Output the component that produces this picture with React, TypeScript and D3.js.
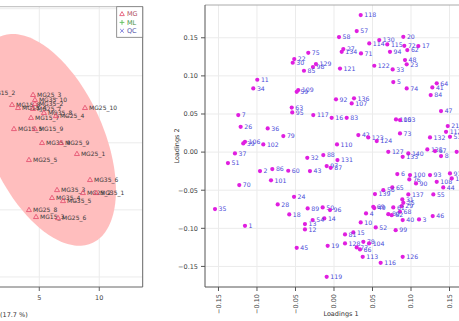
import * as d3 from "d3";

const W = 459;
const H = 321;

// score plot, group MG (PC1 x PC2)
const scoreLabels = [
  "MG15_2", "MG15_8", "MG15_4", "MG25_3", "MG35_10", "MG35_2", "MG25_7", "MG35_8",
  "MG15_7", "MG25_4", "MG25_10", "MG15_5", "MG15_9", "MG35_9", "MG25_9", "MG25_1",
  "MG25_5", "MG35_6", "MG35_3", "MG25_2", "MG35_1", "MG35_4", "MG35_5", "MG25_8",
  "MG15_3", "MG25_6",
];
const scoreX = [
  0.64, 2.73, 3.23, 4.48, 4.64, 4.64, 4.48, 5.39,
  4.31, 6.39, 8.81, 2.89, 4.64, 5.23, 6.81, 8.14,
  4.14, 9.23, 6.48, 8.64, 9.73, 6.06, 6.98, 4.14,
  4.73, 6.56,
];
const scoreY = [
  3.73, 2.84, 2.61, 3.58, 3.21, 2.91, 2.54, 2.24,
  1.87, 2.01, 2.61, 1.04, 1.04, 0.0, 0.0, -0.82,
  -1.27, -2.76, -3.51, -3.73, -3.73, -4.1, -4.33, -5.0,
  -5.52, -5.6,
];
// confidence ellipse of MG: centre and two conjugate half-axes (data units)
const ellipseCenter = [5.56, 0.22];
const ellipseAxisA = [5.83, -3.76];
const ellipseAxisB = [0, -6.94];
const scoreXTicks = [-10, -5, 0, 5, 10];
const scoreYTicks = [-10, -5, 0, 5, 10];
const legendGroups = ["MG", "ML", "QC"];

// loadings
const loadLabels = [
  "118", "57", "58", "130", "114", "115", "20", "72", "17", "94", "62", "27", "134", "71",
  "48", "23", "122", "33", "121", "5", "74", "64", "41", "84", "136", "107", "92", "75",
  "22", "30", "129", "98", "85", "11", "34", "109", "59", "63", "95", "117", "16", "7",
  "26", "36", "79", "106", "39", "102", "37", "51", "32", "88", "2", "86", "60", "43",
  "131", "97", "87", "70", "101", "24", "28", "89", "50", "96", "18", "1", "14", "54",
  "13", "12", "45", "19", "119", "35", "83", "105", "103", "47", "21", "112", "73", "42",
  "123", "124", "132", "53", "110", "127", "140", "133", "135", "67", "8", "6", "100", "76",
  "90", "93", "108", "91", "111", "65", "56", "139", "137", "55", "44", "31", "25", "29",
  "69", "49", "61", "68", "80", "82", "4", "46", "3", "40", "99", "52", "10", "15",
  "81", "128", "78", "104", "77", "66", "113", "116", "126", "9",
];
const loadX = [
  0.0347, 0.0295, 0.0065, 0.0588, 0.0458, 0.0692, 0.09, 0.0913, 0.1095, 0.0727, 0.0952, 0.0121, 0.01, 0.0351,
  0.0922, 0.0944, 0.0523, 0.0762, 0.0078, 0.077, 0.0944, 0.1334, 0.1277, 0.1256, 0.026, 0.023, 0.0026, -0.0334,
  -0.0516, -0.0536, -0.0234, -0.0273, -0.039, -0.0996, -0.1048, -0.0464, -0.0484, -0.0549, -0.0542, -0.0269, -0.003, -0.1243,
  -0.1212, -0.0861, -0.0658, -0.1156, -0.1178, -0.0918, -0.1286, -0.1377, -0.0347, -0.0139, -0.0961, -0.0801, -0.0594, -0.0312,
  0.0045, -0.0095, -0.0043, -0.123, -0.0818, -0.0519, -0.0731, -0.0342, -0.0147, -0.0052, -0.0581, -0.1156, -0.0126, -0.0277,
  -0.0377, -0.0377, -0.0484, -0.0082, -0.0095, -0.1545, 0.0165, 0.0805, 0.0857, 0.139, 0.1477, 0.1455, 0.0857, 0.0316,
  0.0445, 0.0555, 0.1247, 0.1506, 0.0039, 0.0705, 0.0965, 0.0892, 0.1212, 0.1312, 0.139, 0.0822, 0.0987, 0.0978,
  0.1065, 0.1247, 0.1334, 0.1506, 0.1529, 0.0757, 0.064, 0.0532, 0.0965, 0.129, 0.1419, 0.0887, 0.09, 0.0879,
  0.051, 0.0523, 0.077, 0.0857, 0.0705, 0.0749, 0.0416, 0.1282, 0.1104, 0.0892, 0.0801, 0.0542, 0.0347, 0.0251,
  0.0143, 0.0143, 0.0381, 0.0455, 0.0295, 0.0338, 0.0373, 0.0606, 0.0892, 0.1593,
];
const loadY = [
  0.1798, 0.1588, 0.1509, 0.147, 0.1426, 0.1413, 0.1513, 0.1395, 0.1391, 0.1316, 0.1339, 0.1352, 0.1316, 0.1295,
  0.1207, 0.1151, 0.1133, 0.1085, 0.1096, 0.0919, 0.0836, 0.0902, 0.0849, 0.0748, 0.0705, 0.0639, 0.0692, 0.1303,
  0.122, 0.1172, 0.1155, 0.1115, 0.1067, 0.0949, 0.0836, 0.0814, 0.0791, 0.0584, 0.0521, 0.0486, 0.045, 0.0486,
  0.0332, 0.0311, 0.021, 0.0135, 0.0114, 0.0101, -0.0017, -0.0144, -0.0075, -0.0039, -0.0249, -0.0223, -0.0245, -0.0249,
  -0.0105, -0.0184, -0.0206, -0.0433, -0.0371, -0.0587, -0.0686, -0.0739, -0.0726, -0.0761, -0.0818, -0.0967, -0.087, -0.0892,
  -0.0945, -0.1014, -0.1256, -0.123, -0.1636, -0.0748, 0.045, 0.0429, 0.042, 0.0538, 0.0341, 0.0266, 0.0245, 0.0223,
  0.0193, 0.0144, 0.0193, 0.0201, 0.0101, 0.0004, -0.0017, -0.0062, 0.0035, 0.0013, -0.0052, -0.0289, -0.0302, -0.0358,
  -0.0411, -0.0302, -0.039, -0.028, -0.0345, -0.0463, -0.0499, -0.0551, -0.0555, -0.0555, -0.0463, -0.0621, -0.0665, -0.0709,
  -0.0718, -0.0735, -0.0726, -0.0783, -0.0814, -0.0827, -0.0804, -0.084, -0.0883, -0.0892, -0.1024, -0.0988, -0.0923, -0.1054,
  -0.108, -0.1198, -0.1177, -0.1198, -0.1251, -0.1277, -0.1374, -0.1453, -0.1374, 0.0004,
];
const loadTicks = [-0.15, -0.1, -0.05, 0, 0.05, 0.1, 0.15];

const font = "DejaVu Sans";
const grid = "#ebebeb";
const mgColor = "#e2486a";

export default function App() {
  // score panel
  const sx = d3.scaleLinear().domain([-15, 13.62]).range([-200.7, 142.7]);
  const sy = d3.scaleLinear().domain([-10.75, 10.15]).range([287, 6.7]);
  // loadings panel
  const lx = d3.scaleLinear().domain([-0.1675, 0.1857]).range([205, 477]);
  const ly = d3.scaleLinear().domain([-0.177, 0.193]).range([287, 5]);

  const ellipsePts = d3.range(0, Math.PI * 2, Math.PI / 90).map((t) => {
    const x = ellipseCenter[0] + Math.cos(t) * ellipseAxisA[0] + Math.sin(t) * ellipseAxisB[0];
    const y = ellipseCenter[1] + Math.cos(t) * ellipseAxisA[1] + Math.sin(t) * ellipseAxisB[1];
    return [sx(x), sy(y)] as [number, number];
  });
  const ellipsePath = d3.line().curve(d3.curveLinearClosed)(ellipsePts) || "";

  const [sx0, sx1] = sx.range();
  const [sy0, sy1] = sy.range();
  const [lx0, lx1] = lx.range();
  const [ly0, ly1] = ly.range();

  return (
    <div style={{ position: "fixed", left: 0, top: 0 }}>
      <svg width={W} height={H} style={{ display: "block", background: "#fff", fontFamily: font }}>
        {/* ---------- score plot ---------- */}
        <g>
          {scoreXTicks.map((t) => (
            <line key={"sgx" + t} x1={sx(t)} x2={sx(t)} y1={sy1} y2={sy0} stroke={grid} strokeWidth={1} />
          ))}
          {scoreYTicks.map((t) => (
            <line key={"sgy" + t} x1={sx0} x2={sx1} y1={sy(t)} y2={sy(t)} stroke={grid} strokeWidth={1} />
          ))}
          <path d={ellipsePath} fill="#ffbaba" fillOpacity={0.95} />
          {scoreLabels.map((lab, i) => {
            const x = sx(scoreX[i]);
            const y = sy(scoreY[i]);
            return (
              <g key={"s" + lab + i}>
                <path
                  d={`M${x},${y - 2.6}L${x + 2.5},${y + 1.7}L${x - 2.5},${y + 1.7}Z`}
                  fill="none"
                  stroke={mgColor}
                  strokeWidth={0.8}
                />
                <text x={x + 4} y={y + 2} fontSize={6} fill="#3a3a3a">
                  {lab}
                </text>
              </g>
            );
          })}
          <line x1={sx0} x2={sx1} y1={sy1} y2={sy1} stroke="#bbb" strokeWidth={1} />
          <line x1={sx1} x2={sx1} y1={sy1} y2={sy0} stroke="#666" strokeWidth={1} />
          <line x1={sx0} x2={sx1} y1={sy0} y2={sy0} stroke="#666" strokeWidth={1} />
          {scoreXTicks.map((t) => (
            <g key={"sxt" + t}>
              <line x1={sx(t)} x2={sx(t)} y1={sy0} y2={sy0 + 4} stroke="#666" />
              <text x={sx(t)} y={sy0 + 13} fontSize={6.5} fill="#444" textAnchor="middle">
                {t}
              </text>
            </g>
          ))}
          <text x={sx(2.27)} y={317} fontSize={6.5} fill="#333" textAnchor="middle">
            PC1 (17.7 %)
          </text>
          {/* legend */}
          <rect x={116.7} y={sy1} width={26} height={30.6} fill="#fff" stroke="#777" strokeWidth={0.8} />
          {legendGroups.map((g, i) => {
            const y = 14 + i * 8.4;
            const x = 122;
            let sym;
            if (g === "MG")
              sym = (
                <path d={`M${x},${y - 2.4}L${x + 2.3},${y + 1.6}L${x - 2.3},${y + 1.6}Z`} fill="none" stroke={mgColor} strokeWidth={0.8} />
              );
            else if (g === "ML")
              sym = (
                <path d={`M${x - 2.4},${y}H${x + 2.4}M${x},${y - 2.4}V${y + 2.4}`} stroke="#5cbf5c" strokeWidth={0.9} />
              );
            else
              sym = (
                <path d={`M${x - 1.8},${y - 1.8}L${x + 1.8},${y + 1.8}M${x - 1.8},${y + 1.8}L${x + 1.8},${y - 1.8}`} stroke="#6b6bd8" strokeWidth={0.9} />
              );
            const col = g === "MG" ? "#b0505f" : g === "ML" ? "#3f8f3f" : "#5252a8";
            return (
              <g key={"lg" + g}>
                {sym}
                <text x={127} y={y + 2.3} fontSize={6.5} fill={col}>
                  {g}
                </text>
              </g>
            );
          })}
        </g>

        {/* ---------- loadings plot ---------- */}
        <g>
          {loadTicks.map((t) => (
            <g key={"lg" + t}>
              <line x1={lx(t)} x2={lx(t)} y1={ly1} y2={ly0} stroke={grid} />
              <line x1={lx0} x2={lx1} y1={ly(t)} y2={ly(t)} stroke={grid} />
            </g>
          ))}
          {loadLabels.map((lab, i) => {
            const x = lx(loadX[i]);
            const y = ly(loadY[i]);
            return (
              <g key={"p" + lab + i}>
                <circle cx={x} cy={y} r={2.1} fill="#e01ee0" />
                <text x={x + 3.6} y={y + 2.2} fontSize={6.2} fill="#4a4ad8">
                  {lab}
                </text>
              </g>
            );
          })}
          <line x1={lx0} x2={lx1} y1={ly1} y2={ly1} stroke="#aaa" />
          <line x1={lx0} x2={lx0} y1={ly1} y2={ly0} stroke="#555" />
          <line x1={lx0} x2={lx1} y1={ly0} y2={ly0} stroke="#555" />
          {loadTicks.map((t) => (
            <g key={"lt" + t}>
              <line x1={lx0 - 4} x2={lx0} y1={ly(t)} y2={ly(t)} stroke="#555" />
              <text x={lx0 - 7} y={ly(t) + 2.3} fontSize={6.5} fill="#444" textAnchor="end">
                {d3.format(".2f")(t)}
              </text>
              <line x1={lx(t)} x2={lx(t)} y1={ly0} y2={ly0 + 4} stroke="#555" />
              <text
                transform={`translate(${lx(t) + 2.3},${ly0 + 7}) rotate(-90)`}
                fontSize={6.5}
                fill="#444"
                textAnchor="end"
              >
                {d3.format(".2f")(t)}
              </text>
            </g>
          ))}
          <text x={(lx0 + lx1) / 2} y={316} fontSize={6.5} fill="#333" textAnchor="middle">
            Loadings 1
          </text>
          <text transform={`translate(179,${(ly0 + ly1) / 2}) rotate(-90)`} fontSize={6.5} fill="#333" textAnchor="middle">
            Loadings 2
          </text>
        </g>
      </svg>
    </div>
  );
}
